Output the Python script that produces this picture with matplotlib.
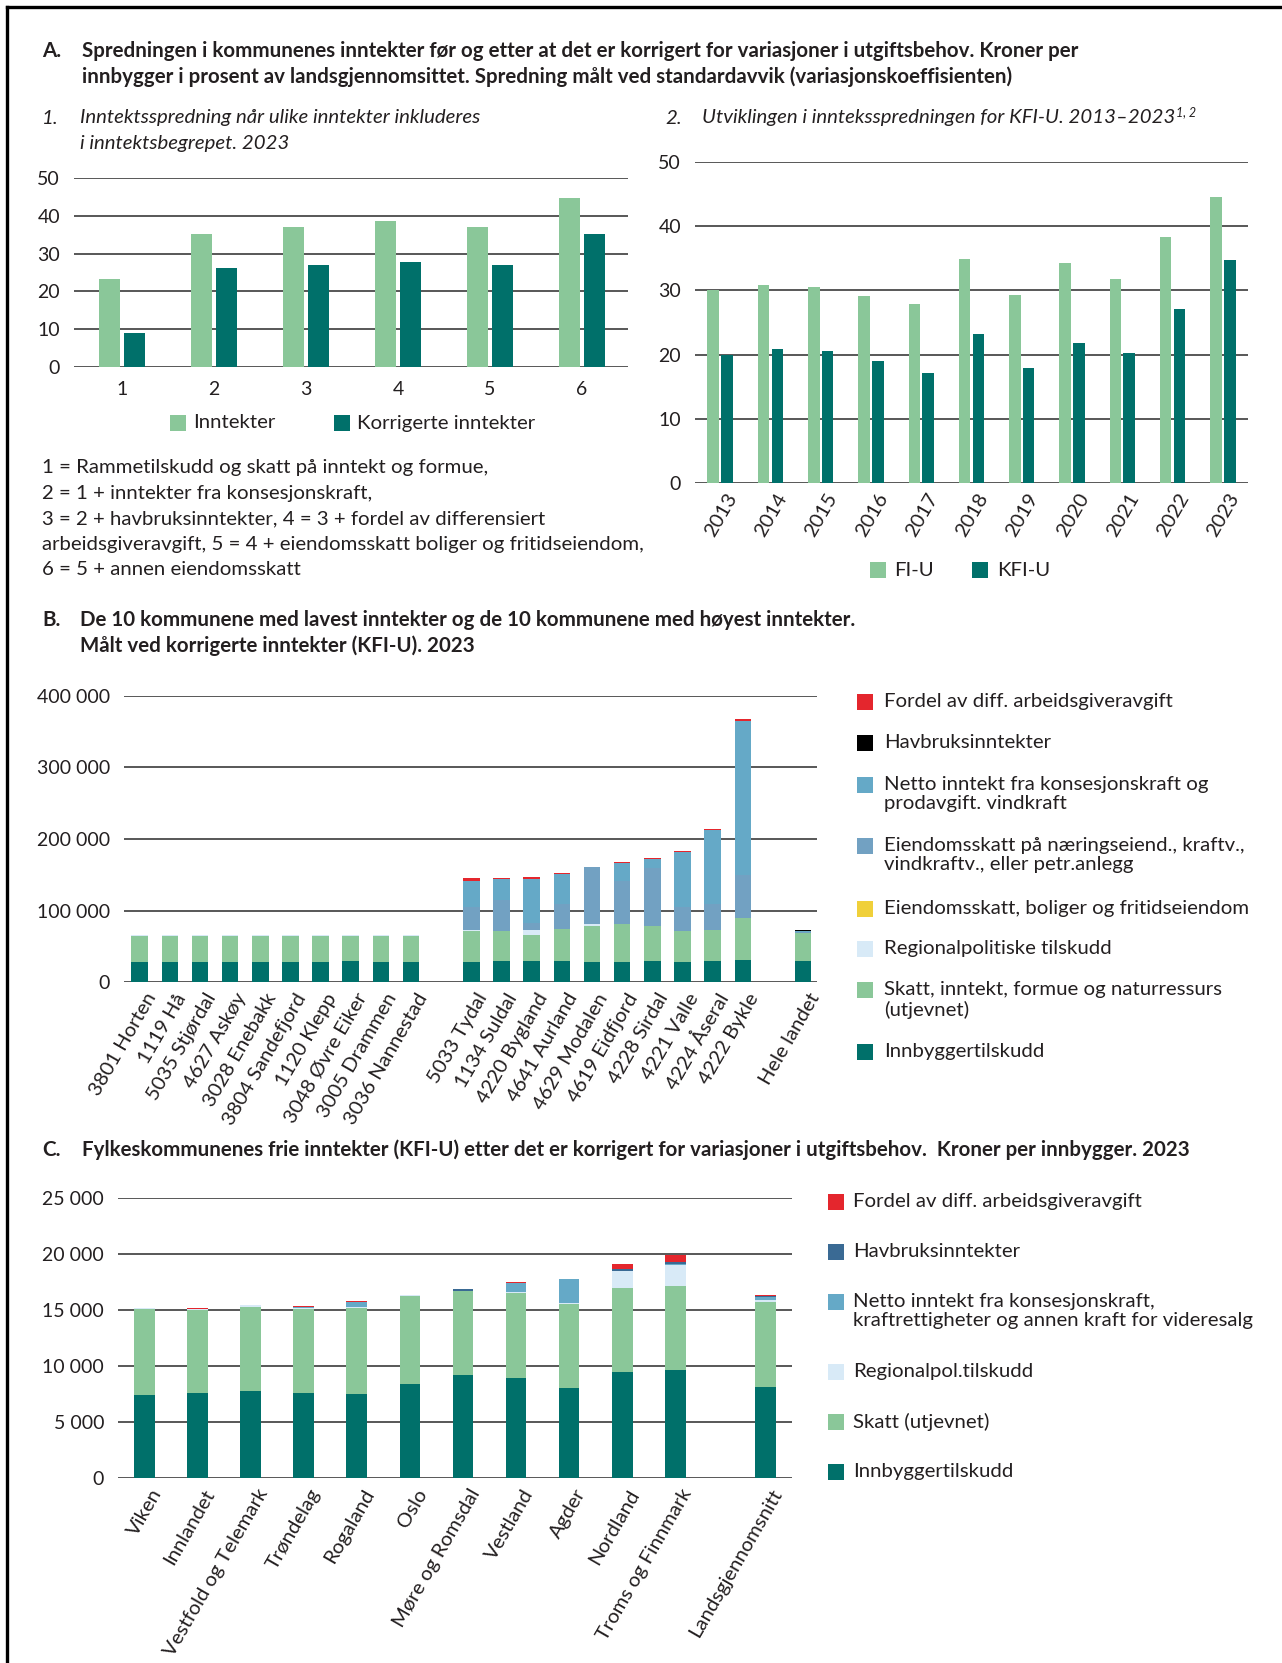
import matplotlib
matplotlib.use("Agg")
import matplotlib.pyplot as plt
import numpy as np
from matplotlib.lines import Line2D
from matplotlib.patches import Rectangle

plt.rcParams['font.family'] = ['Lato', 'DejaVu Sans']

# %% Colours
LIGHT_GREEN = "#8AC799"
TEAL = "#00706A"
RED = "#E4262D"
BLACK = "#000000"
BLUE = "#65A9C7"
GREYBLUE = "#72A1C2"
YELLOW = "#F0D03A"
PALE = "#D8EAF7"
NAVY = "#3A6A94"
GRID = "#4a4a4a"
TXT = "#231F20"

# font sizes
FS_HEAD = 14.8
FS_TEXT = 14.7
FS_TICK = 14.0
FS_ROT = 14.6

# %% Data: panel A1 (spredning, prosent)
a1_groups = ["1", "2", "3", "4", "5", "6"]
a1_inntekter = [23.3, 35.3, 37.1, 38.5, 37.1, 44.6]
a1_korrigerte = [9.0, 26.2, 27.1, 27.9, 26.9, 35.3]

# %% Data: panel A2 (utvikling FI-U / KFI-U)
a2_years = ["2013", "2014", "2015", "2016", "2017", "2018", "2019", "2020", "2021", "2022", "2023"]
a2_fiu = [30.0, 30.8, 30.5, 29.2, 27.9, 34.9, 29.3, 34.2, 31.8, 38.3, 44.6]
a2_kfiu = [20.0, 20.9, 20.5, 19.0, 17.1, 23.2, 17.9, 21.8, 20.3, 27.1, 34.8]

# %% Data: panel B (kroner per innbygger, kommuner)
b_names = ["3801 Horten", "1119 Hå", "5035 Stjørdal", "4627 Askøy", "3028 Enebakk",
           "3804 Sandefjord", "1120 Klepp", "3048 Øvre Eiker", "3005 Drammen", "3036 Nannestad",
           "5033 Tydal", "1134 Suldal", "4220 Bygland", "4641 Aurland", "4629 Modalen",
           "4619 Eidfjord", "4228 Sirdal", "4221 Valle", "4224 Åseral", "4222 Bykle",
           "Hele landet"]
b_pos = [0, 1, 2, 3, 4, 5, 6, 7, 8, 9, 11, 12, 13, 14, 15, 16, 17, 18, 19, 20, 22]
b_innbygger = [28200, 28300, 28200, 28300, 28200, 28400, 28300, 28900, 28400, 28200,
               28000, 29400, 29400, 29400, 28000, 28400, 29400, 28000, 29400, 30800, 29400]
b_skatt = [36700, 36600, 36700, 36600, 36700, 36500, 36700, 36100, 36600, 36500,
           43800, 41900, 36300, 44300, 50800, 52300, 48500, 43300, 43300, 58700, 38700]
b_regional = [300, 300, 300, 300, 300, 300, 300, 300, 700, 1600,
              500, 0, 7000, 0, 2300, 0, 0, 0, 0, 0, 600]
b_eiend_bolig = [0] * 21
b_eiend_naering = [0, 0, 0, 0, 0, 0, 0, 0, 0, 0,
                   32200, 42900, 9300, 35400, 79300, 60100, 81100, 33100, 35900, 60200, 1200]
b_netto = [0, 0, 0, 0, 0, 0, 0, 0, 0, 0,
           37300, 29400, 62500, 41500, 0, 25600, 13500, 77400, 104500, 215800, 1200]
b_havbruk = [0, 0, 0, 0, 0, 0, 0, 0, 0, 0,
             0, 800, 0, 0, 0, 0, 0, 0, 0, 0, 1500]
b_fordel = [0, 0, 0, 0, 0, 0, 0, 0, 0, 0,
            3700, 1100, 1900, 1800, 400, 1400, 300, 1400, 1400, 1900, 700]

# %% Data: panel C (kroner per innbygger, fylkeskommuner)
c_names = ["Viken", "Innlandet", "Vestfold og Telemark", "Trøndelag", "Rogaland", "Oslo",
           "Møre og Romsdal", "Vestland", "Agder", "Nordland", "Troms og Finnmark",
           "Landsgjennomsnitt"]
c_pos = [0, 1, 2, 3, 4, 5, 6, 7, 8, 9, 10, 11.7]
c_innbygger = [7400, 7590, 7770, 7590, 7530, 8360, 9200, 8930, 8070, 9460, 9670, 8120]
c_skatt = [7660, 7410, 7500, 7530, 7680, 7920, 7500, 7560, 7470, 7500, 7470, 7560]
c_regional = [100, 80, 150, 60, 80, 60, 30, 100, 90, 1490, 1880, 180]
c_netto = [0, 0, 0, 80, 450, 0, 0, 820, 2140, 60, 90, 270]
c_havbruk = [0, 0, 0, 50, 0, 0, 150, 0, 0, 120, 150, 90]
c_fordel = [0, 130, 0, 90, 50, 0, 0, 60, 0, 510, 680, 120]

# %% Figure and pixel helpers
W, H = 1282, 1663
fig = plt.figure(figsize=(W / 100, H / 100), dpi=100)


def px_axes(left, top, right, bottom):
    return fig.add_axes([left / W, 1 - bottom / H, (right - left) / W, (bottom - top) / H])


def ftext(x, y, s, **kw):
    kw.setdefault("color", TXT)
    kw.setdefault("va", "center")
    return fig.text(x / W, 1 - y / H, s, **kw)


def style_axes(ax, ticks, labels, fs=FS_TICK):
    for sp in ax.spines.values():
        sp.set_visible(False)
    ax.set_yticks(ticks)
    ax.set_yticklabels(labels, fontsize=fs, color=TXT)
    ax.set_ylim(ticks[0], ticks[-1])
    for t in ticks:
        ax.axhline(t, color=GRID, lw=1.3, zorder=0.5)
    ax.tick_params(axis="both", length=0)
    ax.tick_params(axis="y", pad=10)


def legend_square(x, y, color, size=16):
    fig.add_artist(Rectangle(((x) / W, 1 - (y + size / 2) / H), size / W, size / H,
                             transform=fig.transFigure, color=color, lw=0))


# %% Frame
fig.add_artist(Line2D([7 / W, 1], [1 - 7 / H, 1 - 7 / H], color="black", lw=2.4))
fig.add_artist(Line2D([7 / W, 7 / W], [0, 1 - 7 / H], color="black", lw=2.4))

# %% Section A headings
ftext(42, 51, "A.", fontsize=FS_HEAD, weight="bold")
ftext(82, 51, "Spredningen i kommunenes inntekter før og etter at det er korrigert for variasjoner i utgiftsbehov. Kroner per",
      fontsize=FS_HEAD, weight="bold")
ftext(82, 77, "innbygger i prosent av landsgjennomsittet. Spredning målt ved standardavvik (variasjonskoeffisienten)",
      fontsize=FS_HEAD, weight="bold")

ftext(42, 118, "1.", fontsize=FS_TEXT, style="italic")
ftext(80, 118, "Inntektsspredning når ulike inntekter inkluderes", fontsize=FS_TEXT, style="italic")
ftext(80, 143, "i inntektsbegrepet. 2023", fontsize=FS_TEXT, style="italic")

ftext(665, 118, "2.", fontsize=FS_TEXT, style="italic")
t2 = ftext(702, 118, "Utviklingen i innteksspredningen for KFI-U. 2013–2023", fontsize=FS_TEXT, style="italic")
fig.canvas.draw()
bb = t2.get_window_extent(fig.canvas.get_renderer())
fig.text(bb.x1 / W + 1 / W, 1 - 112 / H, "1, 2", fontsize=9, style="italic", color=TXT, va="center")

# %% Panel A1
ax1 = px_axes(74, 178, 628, 367)
x1 = np.arange(1, 7)
ax1.bar(x1 - 0.135, a1_inntekter, width=0.23, color=LIGHT_GREEN, zorder=2)
ax1.bar(x1 + 0.135, a1_korrigerte, width=0.23, color=TEAL, zorder=2)
style_axes(ax1, [0, 10, 20, 30, 40, 50], ["0", "10", "20", "30", "40", "50"])
ax1.set_xlim(0.48, 6.5)
ax1.set_xticks(x1)
ax1.set_xticklabels(a1_groups, fontsize=FS_TICK, color=TXT)
ax1.tick_params(axis="x", pad=10)

legend_square(170, 423, LIGHT_GREEN)
ftext(193, 423, "Inntekter", fontsize=FS_TEXT)
legend_square(334, 423, TEAL)
ftext(357, 423, "Korrigerte inntekter", fontsize=FS_TEXT)

notes = ["1 = Rammetilskudd og skatt på inntekt og formue,",
         "2 = 1 + inntekter fra konsesjonskraft,",
         "3 = 2 + havbruksinntekter, 4 = 3 + fordel av differensiert",
         "arbeidsgiveravgift, 5 = 4 + eiendomsskatt boliger og fritidseiendom,",
         "6 = 5 + annen eiendomsskatt"]
for i, line in enumerate(notes):
    ftext(42, 468 + i * 25.4, line, fontsize=FS_TEXT)

# %% Panel A2
ax2 = px_axes(695, 162, 1248, 483)
x2 = np.arange(len(a2_years))
ax2.bar(x2 - 0.137, a2_fiu, width=0.23, color=LIGHT_GREEN, zorder=2)
ax2.bar(x2 + 0.137, a2_kfiu, width=0.23, color=TEAL, zorder=2)
style_axes(ax2, [0, 10, 20, 30, 40, 50], ["0", "10", "20", "30", "40", "50"])
ax2.set_xlim(-0.5, 10.5)
ax2.set_xticks(x2 + 0.1)
ax2.set_xticklabels(a2_years, fontsize=FS_ROT, color=TXT, rotation=60, ha="right", rotation_mode="anchor")
ax2.tick_params(axis="x", pad=5)

legend_square(870, 570, LIGHT_GREEN)
ftext(894, 570, "FI-U", fontsize=FS_TEXT)
legend_square(972, 570, TEAL)
ftext(997, 570, "KFI-U", fontsize=FS_TEXT)

# %% Section B
ftext(42, 620, "B.", fontsize=FS_HEAD, weight="bold")
ftext(80, 620, "De 10 kommunene med lavest inntekter og de 10 kommunene med høyest inntekter.",
      fontsize=FS_HEAD, weight="bold")
ftext(80, 646, "Målt ved korrigerte inntekter (KFI-U). 2023", fontsize=FS_HEAD, weight="bold")

axb = px_axes(124, 696, 817, 982)
b_layers = [(b_innbygger, TEAL), (b_skatt, LIGHT_GREEN), (b_regional, PALE),
            (b_eiend_bolig, YELLOW), (b_eiend_naering, GREYBLUE), (b_netto, BLUE),
            (b_havbruk, BLACK), (b_fordel, RED)]
bottom = np.zeros(len(b_pos))
for vals, col in b_layers:
    axb.bar(b_pos, vals, bottom=bottom, width=0.55, color=col, zorder=2)
    bottom += np.array(vals)
b_ticks = [0, 100000, 200000, 300000, 400000]
style_axes(axb, b_ticks, ["0", "100 000", "200 000", "300 000", "400 000"])
axb.set_xlim(-0.52, 22.46)
axb.set_xticks(np.array(b_pos) + 0.15)
axb.set_xticklabels(b_names, fontsize=FS_ROT, color=TXT, rotation=60, ha="right", rotation_mode="anchor")
axb.tick_params(axis="x", pad=6)

b_legend = [("Fordel av diff. arbeidsgiveravgift", RED, 702),
            ("Havbruksinntekter", BLACK, 743),
            ("Netto inntekt fra konsesjonskraft og\nprodavgift. vindkraft", BLUE, 785),
            ("Eiendomsskatt på næringseiend., kraftv.,\nvindkraftv., eller petr.anlegg", GREYBLUE, 846),
            ("Eiendomsskatt, boliger og fritidseiendom", YELLOW, 909),
            ("Regionalpolitiske tilskudd", PALE, 949),
            ("Skatt, inntekt, formue og naturressurs\n(utjevnet)", LIGHT_GREEN, 990),
            ("Innbyggertilskudd", TEAL, 1052)]
for label, col, y in b_legend:
    legend_square(857, y, col)
    ftext(884, y - 9, label, fontsize=FS_TEXT, va="top", linespacing=1.17)

# %% Section C
ftext(42, 1150, "C.", fontsize=FS_HEAD, weight="bold")
ftext(82, 1150, "Fylkeskommunenes frie inntekter (KFI-U) etter det er korrigert for variasjoner i utgiftsbehov.  Kroner per innbygger. 2023",
      fontsize=FS_HEAD, weight="bold")

axc = px_axes(118, 1198, 792, 1478)
c_layers = [(c_innbygger, TEAL), (c_skatt, LIGHT_GREEN), (c_regional, PALE),
            (c_netto, BLUE), (c_havbruk, NAVY), (c_fordel, RED)]
bottom = np.zeros(len(c_pos))
for vals, col in c_layers:
    axc.bar(c_pos, vals, bottom=bottom, width=0.39, color=col, zorder=2)
    bottom += np.array(vals)
c_ticks = [0, 5000, 10000, 15000, 20000, 25000]
style_axes(axc, c_ticks, ["0", "5 000", "10 000", "15 000", "20 000", "25 000"])
axc.set_xlim(-0.5, 12.2)
axc.set_xticks(np.array(c_pos) + 0.1)
axc.set_xticklabels(c_names, fontsize=FS_ROT, color=TXT, rotation=60, ha="right", rotation_mode="anchor")
axc.tick_params(axis="x", pad=6)

c_legend = [("Fordel av diff. arbeidsgiveravgift", RED, 1202),
            ("Havbruksinntekter", NAVY, 1252),
            ("Netto inntekt fra konsesjonskraft,\nkraftrettigheter og annen kraft for videresalg", BLUE, 1302),
            ("Regionalpol.tilskudd", PALE, 1372),
            ("Skatt (utjevnet)", LIGHT_GREEN, 1422),
            ("Innbyggertilskudd", TEAL, 1472)]
for label, col, y in c_legend:
    legend_square(828, y, col)
    ftext(853, y - 9, label, fontsize=FS_TEXT, va="top", linespacing=1.17)

fig.savefig("out.png", dpi=100)
